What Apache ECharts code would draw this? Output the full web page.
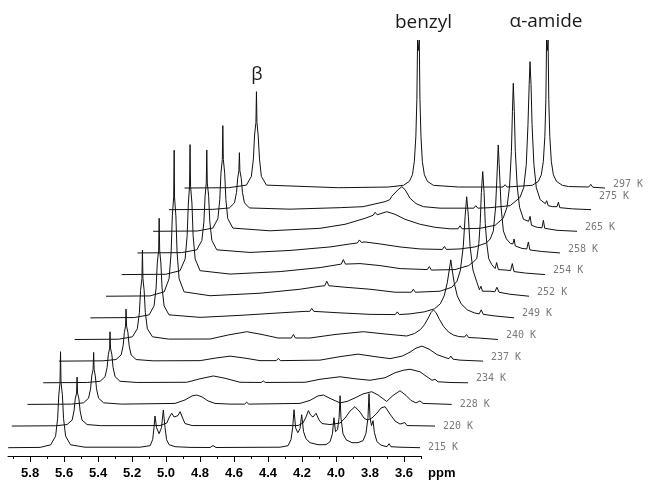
<!DOCTYPE html>
<html><head><meta charset="utf-8">
<script src="https://cdn.jsdelivr.net/npm/echarts@6/dist/echarts.min.js"></script>
<style>html,body{margin:0;padding:0;background:#fff}#chart{width:651px;height:481px}</style>
</head><body><div id="chart"></div>
<script>
// Temperatures of the stacked 1H NMR spectra (bottom to top)
const temperatures = ['215 K','220 K','228 K','234 K','237 K','240 K','249 K','252 K','254 K','258 K','265 K','275 K','297 K'];

// Each spectrum: [chemical shift (ppm), intensity (a.u.)]
const t215 = [[5.929,0],[5.741,0.3],[5.679,2.9],[5.650,11.5],[5.638,29],[5.631,53],[5.624,65],[5.621,96],[5.618,65],[5.610,53],[5.603,29],[5.591,11.5],[5.562,2.9],[5.477,0.5],
[5.153,0.5],[5.094,2],[5.079,8],[5.071,20],[5.065,31.7],[5.056,20],[5.041,14],[5.027,20],[5.016,37.7],[5.006,20],[4.997,8],[4.982,3],[4.947,1],[4.859,0.3],
[4.741,0.2],[4.724,2.2],[4.706,0.2],
[4.329,0.5],[4.282,2],[4.265,8],[4.255,20],[4.247,38],[4.238,20],[4.225,15],[4.212,19],[4.202,33],[4.191,16],[4.177,9],[4.153,5],[4.106,3],[4.059,3],
[4.035,6],[4.021,14],[4.012,30],[4.003,16],[3.991,18],[3.982,30],[3.976,52],[3.971,30],[3.959,14],[3.941,8],[3.906,5],[3.871,5],[3.841,7],[3.824,14],[3.812,30],[3.806,54],[3.800,30],[3.791,22],[3.782,27],[3.774,15],[3.759,6],[3.735,2.5],[3.700,1],[3.688,4],[3.677,1],[3.624,0.5],[3.506,0]];

const t220 = [[6.000,0],[5.741,0.3],[5.675,1.5],[5.645,6],[5.634,15],[5.627,27],[5.619,33],[5.616,49],[5.613,33],[5.605,27],[5.598,15],[5.587,6],[5.557,1.5],[5.477,0.4],
[5.128,0.5],[5.088,3],[5.073,9],[5.059,12.8],[5.045,9],[5.034,7.8],[5.022,10.5],[5.010,14.4],[4.995,8],[4.981,2.5],[4.939,0.5],
[4.316,0.5],[4.287,3],[4.269,9],[4.255,15.4],[4.242,11],[4.228,9],[4.210,12.8],[4.192,6],[4.175,2.5],[4.128,1.5],
[4.069,3],[4.039,8],[4.010,15],[3.981,19.4],[3.951,14],[3.928,8],[3.907,6],[3.881,8],[3.851,13],[3.828,18],[3.804,19.4],[3.775,12],[3.745,5],[3.716,2],[3.687,3.5],[3.675,0.5],[3.510,0]];

const t228 = [[6.000,0],[5.741,0.3],[5.670,1.6],[5.641,6.2],[5.629,15.6],[5.622,28.6],[5.614,35],[5.611,52],[5.608,35],[5.601,28.6],[5.594,15.6],[5.582,6.2],[5.552,1.6],[5.447,0.3],
[5.132,1],[5.073,4.5],[5.032,8.5],[5.004,9.4],[4.973,7.5],[4.938,3.5],[4.897,1],[4.808,0.3],
[4.722,0.3],[4.710,2.2],[4.698,0.3],
[4.397,1],[4.338,4],[4.291,8.5],[4.259,9.4],[4.220,6],[4.161,1.5],[4.120,3],[4.073,6.5],[4.026,10.5],[3.975,12.7],[3.938,9.5],[3.887,3],[3.849,9],[3.808,13.7],[3.773,9],[3.744,4],[3.714,1.5],[3.691,3.5],[3.673,1],[3.504,0]];

const t234 = [[6.000,0],[5.741,0.3],[5.665,1.5],[5.636,6.1],[5.624,15.3],[5.617,28],[5.609,34.7],[5.607,51],[5.604,34.7],[5.596,28],[5.589,15.3],[5.577,6.1],[5.548,1.5],[5.447,0.3],
[5.155,0.5],[5.077,4],[4.999,6.8],[4.930,4.5],[4.842,0.5],
[4.717,0.3],[4.705,1.8],[4.693,0.3],
[4.459,0.5],[4.371,3.5],[4.254,6],[4.165,4],[4.077,2.5],[3.989,5],[3.930,10],[3.883,12.5],[3.842,13.5],[3.783,11],[3.742,6],[3.712,2.5],[3.695,3.5],[3.677,1],[3.607,0.3],[3.501,0]];

const t237 = [[6.000,0],[5.741,0.3],[5.664,1.6],[5.634,6.2],[5.622,15.6],[5.615,28.6],[5.608,35],[5.605,52],[5.602,35],[5.594,28.6],[5.587,15.6],[5.575,6.2],[5.546,1.6],[5.447,0.3],
[5.169,0.5],[5.081,3],[4.993,5],[4.905,3],[4.817,0.5],
[4.721,0.5],[4.709,2.8],[4.697,0.5],
[4.464,1],[4.346,4.5],[4.240,7],[4.140,4.5],[4.052,2.5],[3.981,5],[3.934,9],[3.899,13],[3.864,15],[3.822,12],[3.775,6.5],[3.717,3],[3.705,2.5],[3.694,5],[3.682,2],[3.640,1],[3.505,0]];

const t240 = [[6.000,0],[5.741,0.3],[5.660,2.7],[5.631,10.7],[5.619,26.9],[5.612,49.2],[5.604,60.9],[5.601,89.5],[5.598,60.9],[5.591,49.2],[5.584,26.9],[5.572,10.7],[5.542,2.7],[5.447,0.4],
[5.203,0.5],[5.097,4.5],[4.987,7.8],[4.897,5],[4.803,1.5],
[4.725,1.5],[4.713,5],[4.701,1.5],
[4.615,1.5],[4.468,5],[4.301,7.8],[4.174,5.5],[4.046,3.5],[4.000,6],[3.965,10],[3.941,15],[3.921,21],[3.903,27],[3.889,29.5],[3.874,27],[3.853,20],[3.829,13],[3.800,7.5],[3.771,4.5],[3.741,3],[3.706,2.5],[3.694,5],[3.682,2],[3.624,1.5],[3.509,0]];

const t249 = [[6.000,0],[5.741,0.3],[5.654,3],[5.625,12],[5.613,29.9],[5.606,54.8],[5.598,67.7],[5.595,99.6],[5.592,67.7],[5.585,54.8],[5.578,29.9],[5.566,12],[5.537,3],[5.354,0.5],
[5.119,2.5],[4.884,5],[4.737,6.5],[4.709,6.5],[4.697,9.5],[4.685,6.5],[4.531,5],[4.354,3.5],[4.206,3.3],[4.194,6],[4.182,3.3],[4.119,4],
[4.035,6],[3.976,9],[3.941,14],[3.918,22],[3.900,35],[3.888,48],[3.879,58],[3.871,48],[3.859,35],[3.841,22],[3.818,14],[3.782,8],[3.741,5],[3.712,4],[3.700,8],[3.688,3.5],[3.624,2],[3.507,0]];

const t252 = [[6.000,0],[5.741,0.3],[5.658,4.4],[5.629,17.5],[5.617,43.8],[5.610,80.3],[5.602,99.3],[5.599,146],[5.597,99.3],[5.589,80.3],[5.582,43.8],[5.570,17.5],[5.541,4.4],[5.388,0.5],
[5.094,3],[4.858,7],[4.741,10],[4.713,10.5],[4.701,15],[4.689,10.5],[4.594,9],[4.447,7],[4.299,4],[4.204,4],[4.192,7],[4.180,4],[4.035,5],
[3.965,9],[3.935,15],[3.915,26],[3.898,50],[3.887,80],[3.878,99.5],[3.868,80],[3.858,50],[3.841,26],[3.820,15],[3.803,6.5],[3.794,10],[3.785,5],[3.741,5],[3.712,4.5],[3.700,9],[3.688,4],[3.624,2],[3.511,0]];

const t254 = [[6.000,0],[5.741,0.3],[5.657,3.9],[5.627,15.6],[5.615,39],[5.608,71.5],[5.601,88.4],[5.598,130],[5.595,88.4],[5.587,71.5],[5.580,39],[5.568,15.6],[5.539,3.9],[5.362,0.5],
[5.068,3],[4.833,7],[4.708,10.5],[4.696,15],[4.684,10.5],[4.598,11],[4.480,9],[4.362,6],[4.202,5],[4.190,8],[4.178,4.5],[4.039,5],
[3.959,9],[3.929,13],[3.911,16],[3.899,31],[3.891,51],[3.884,82],[3.876,103],[3.868,82],[3.861,51],[3.852,31],[3.841,16],[3.823,10],[3.803,6],[3.794,12],[3.784,5],[3.741,4.5],[3.712,4],[3.702,11],[3.692,3],[3.624,1.5],[3.509,0]];

const t258 = [[6.000,0],[5.741,0.3],[5.651,3.1],[5.621,12.4],[5.609,30.9],[5.602,56.7],[5.595,70],[5.592,103],[5.589,70],[5.581,56.7],[5.574,30.9],[5.562,12.4],[5.533,3.1],[5.337,0.5],
[5.102,2.5],[4.867,6],[4.749,9],[4.706,10],[4.694,13],[4.682,10.5],[4.661,11],[4.572,9],[4.455,6],[4.337,4],[4.206,3.5],[4.194,6.5],[4.182,3.5],[4.102,4],[4.014,6],
[3.947,10],[3.924,14],[3.906,22],[3.893,45],[3.885,75],[3.877,108],[3.868,75],[3.860,45],[3.847,22],[3.829,14],[3.806,9.5],[3.791,9],[3.784,14],[3.777,7],[3.737,4.5],[3.709,4],[3.700,11],[3.691,3],[3.624,1.5],[3.514,0]];

const t265 = [[6.000,0],[5.741,0.3],[5.649,3.2],[5.619,12.7],[5.608,31.7],[5.601,58.1],[5.593,71.8],[5.590,105.6],[5.587,71.8],[5.579,58.1],[5.572,31.7],[5.561,12.7],[5.531,3.2],[5.312,0.5],
[5.018,3],[4.871,7],[4.753,13],[4.706,16],[4.694,19],[4.682,16.5],[4.625,19.6],[4.577,17],[4.518,12],[4.429,7],[4.341,4],[4.253,2.5],[4.206,2.5],[4.194,5.5],[4.182,2.5],[4.077,3],[3.988,6],
[3.941,13],[3.918,24],[3.903,45],[3.892,80],[3.886,120],[3.881,148],[3.875,120],[3.869,80],[3.858,45],[3.844,24],[3.821,12],[3.791,10],[3.782,15],[3.774,6],[3.741,4],[3.712,3.5],[3.704,11],[3.696,3],[3.624,1],[3.506,0]];

const t275 = [[6.000,0],[5.741,0.3],[5.644,1.7],[5.614,6.8],[5.602,17.1],[5.595,31.4],[5.588,38.8],[5.585,57],[5.582,38.8],[5.574,31.4],[5.567,17.1],[5.555,6.8],[5.526,1.7],[5.287,0.5],
[4.992,2],[4.857,3],[4.728,8],[4.700,10],[4.688,13.5],[4.677,12],[4.651,20],[4.629,23],[4.610,20],[4.581,11.4],[4.545,6],[4.502,3],[4.404,1.5],[4.206,1.5],[4.194,4],[4.182,1.5],[4.110,2],[3.992,4],
[3.935,12],[3.912,22],[3.897,45],[3.887,85],[3.880,125],[3.875,148],[3.869,125],[3.863,85],[3.852,45],[3.838,22],[3.815,10],[3.785,6],[3.777,9],[3.768,4],[3.741,3],[3.716,3],[3.708,7.5],[3.700,2],[3.624,0.8],[3.516,0]];

const t297 = [[6.000,0],[5.741,0.3],[5.636,2.9],[5.607,11.6],[5.595,28.9],[5.588,53],[5.580,65.5],[5.577,96.3],[5.574,65.5],[5.567,53],[5.559,28.9],[5.548,11.6],[5.518,2.9],[5.094,0.3],[4.800,1],
[4.712,2.7],[4.677,6.7],[4.659,13.3],[4.648,26.6],[4.639,51.8],[4.633,88.8],[4.629,148],[4.624,137.6],[4.619,148],[4.615,88.8],[4.609,51.8],[4.601,26.6],[4.589,13.3],[4.571,6.7],[4.536,2.7],
[4.388,1],[4.126,1],[4.114,3.3],[4.102,1],
[3.954,2.7],[3.918,6.7],[3.901,13.3],[3.889,26.6],[3.880,51.8],[3.874,88.8],[3.870,148],[3.865,137.6],[3.861,148],[3.857,88.8],[3.851,51.8],[3.842,26.6],[3.830,13.3],[3.812,6.7],[3.777,2.7],
[3.741,1.5],[3.622,1],[3.610,3.7],[3.598,0.8],[3.526,0]];

const traces = [t215,t220,t228,t234,t237,t240,t249,t252,t254,t258,t265,t275,t297];

// Axis tick labels (ppm) and minor tick positions
const tickLabels = [5.8,5.6,5.4,5.2,5.0,4.8,4.6,4.4,4.2,4.0,3.8,3.6];
const minorTickValues = [5.9,5.7,5.5,5.3,5.1,4.9,4.7,4.5,4.3,4.1,3.9,3.7,3.5];

// Peak annotations
const peakNames = ['\u03b2','benzyl','\u03b1-amide'];

// Waterfall offsets between successive spectra
const XSHIFT = 0.0924;   // ppm shift per spectrum
const YSHIFT = 21.64;    // intensity shift per spectrum
const BASE0 = 8.3;       // baseline of the first spectrum

// Visible axis range and layout
const AX_MIN = 3.5, AX_MAX = 5.93;
const W = 651, H = 481;
const G_LEFT = 8, G_RIGHT_AXIS = 230, G_RIGHT_DATA = 0;
// the (hidden) data axis spans the full width with the same ppm-per-pixel scale
const pxPerPpm = (W - G_LEFT - G_RIGHT_AXIS) / (AX_MAX - AX_MIN);
const DATA_MIN = AX_MAX - (W - G_LEFT - G_RIGHT_DATA) / pxPerPpm;

const chart = echarts.init(document.getElementById('chart'), null, {renderer:'canvas', width:W, height:H});

const series = traces.map((d, k) => ({
  type: 'line',
  name: temperatures[k],
  xAxisIndex: 2, yAxisIndex: 1,
  data: d.map(p => [p[0] - k * XSHIFT, BASE0 + k * YSHIFT + p[1]]),
  symbol: 'none', showSymbol: false, silent: true,
  lineStyle: {color: '#111', width: 1},
  emphasis: {disabled: true},
  endLabel: {
    show: true, formatter: temperatures[k], align: 'left', distance: 0,
    offset: [8, k < 3 ? 0 : (k === 11 ? -13 : -4)],
    color: '#7a7a7a', fontFamily: 'DejaVu Sans Mono', fontSize: 10
  }
}));

const option = {
  animation: false,
  backgroundColor: '#fff',
  grid: [
    {left: G_LEFT, right: G_RIGHT_AXIS, top: 0, bottom: 25, containLabel: false},
    {left: G_LEFT, right: G_RIGHT_DATA, top: 0, bottom: 25, containLabel: false}
  ],
  xAxis: [{
    gridIndex: 0, type: 'value', min: AX_MIN, max: AX_MAX, inverse: true, position: 'bottom',
    axisLine: {show: true, onZero: false, lineStyle: {color: '#000', width: 1}},
    axisTick: {show: true, length: 6, customValues: tickLabels, lineStyle: {color: '#000', width: 1}},
    axisLabel: {show: true, customValues: tickLabels, formatter: v => v.toFixed(1), margin: 11,
      fontFamily: 'Liberation Sans', fontWeight: 'bold', fontSize: 13, color: '#000'},
    splitLine: {show: false}
  }, {
    gridIndex: 0, type: 'value', min: AX_MIN, max: AX_MAX, inverse: true, position: 'bottom',
    axisLine: {show: false, onZero: false},
    axisTick: {show: true, length: 3, customValues: minorTickValues, lineStyle: {color: '#000', width: 1}},
    axisLabel: {show: false},
    splitLine: {show: false}
  }, {
    gridIndex: 1, type: 'value', min: DATA_MIN, max: AX_MAX, inverse: true, show: false,
    splitLine: {show: false}
  }],
  yAxis: [
    {gridIndex: 0, type: 'value', min: 0, max: 456, show: false},
    {gridIndex: 1, type: 'value', min: 0, max: 456, show: false}
  ],
  series: series,
  graphic: [
    {type: 'text', x: 428, y: 473, silent: true,
     style: {text: 'ppm', font: 'bold 13px "Liberation Sans"', fill: '#000', align: 'left', verticalAlign: 'middle'}},
    {type: 'text', x: 257, y: 75, silent: true,
     style: {text: peakNames[0], font: '18px "Open Sans"', fill: '#1a1a1a', align: 'center', verticalAlign: 'middle'}},
    {type: 'text', x: 423.5, y: 22.5, silent: true,
     style: {text: peakNames[1], font: '19px "Open Sans"', fill: '#1a1a1a', align: 'center', verticalAlign: 'middle'}},
    {type: 'text', x: 546, y: 21.5, silent: true,
     style: {text: peakNames[2], font: '19px "Open Sans"', fill: '#1a1a1a', align: 'center', verticalAlign: 'middle'}}
  ]
};
chart.setOption(option);
</script>
</body></html>
